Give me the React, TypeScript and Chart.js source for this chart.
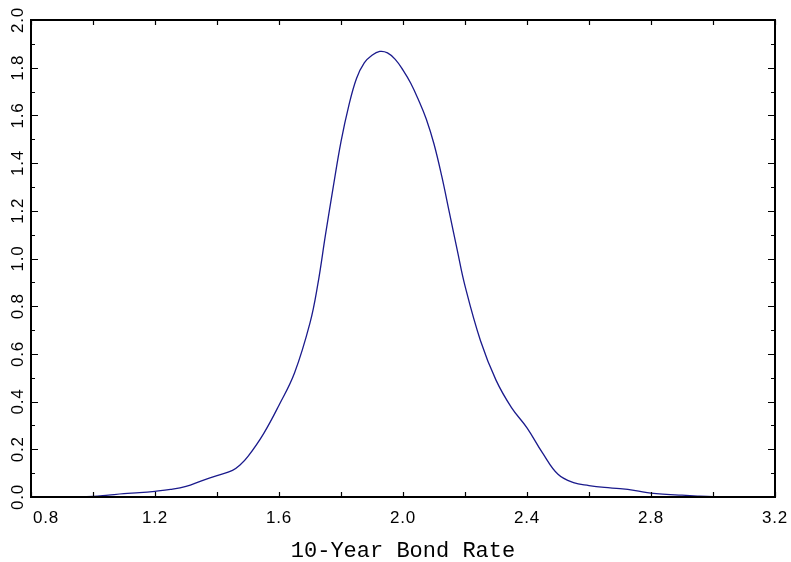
import React, { useEffect, useRef } from "react";
import { Chart, registerables } from "chart.js";

Chart.register(...registerables);

const xValues = [0.88, 0.95, 1.0, 1.05, 1.1, 1.15, 1.2, 1.25, 1.3, 1.35, 1.4, 1.45, 1.475, 1.5, 1.55, 1.6, 1.65, 1.7, 1.725, 1.75, 1.775, 1.8, 1.825, 1.85, 1.875, 1.9, 1.925, 1.95, 1.975, 2.0, 2.025, 2.05, 2.075, 2.1, 2.125, 2.15, 2.175, 2.2, 2.25, 2.3, 2.35, 2.4, 2.45, 2.5, 2.55, 2.6, 2.65, 2.7, 2.75, 2.8, 2.85, 2.9, 2.95, 3.0, 3.05, 3.11];
const densityValues = [0, 0, 0.002, 0.008, 0.014, 0.018, 0.024, 0.032, 0.045, 0.068, 0.09, 0.112, 0.135, 0.17, 0.265, 0.385, 0.52, 0.73, 0.89, 1.1, 1.3, 1.49, 1.64, 1.755, 1.82, 1.852, 1.868, 1.862, 1.835, 1.79, 1.735, 1.665, 1.585, 1.48, 1.345, 1.19, 1.035, 0.885, 0.655, 0.49, 0.375, 0.29, 0.185, 0.095, 0.06, 0.048, 0.04, 0.035, 0.027, 0.016, 0.011, 0.008, 0.004, 0.001, 0, 0];
const xTickLabels = ["0.8", "1.2", "1.6", "2.0", "2.4", "2.8", "3.2"];
const yTickLabels = ["0.0", "0.2", "0.4", "0.6", "0.8", "1.0", "1.2", "1.4", "1.6", "1.8", "2.0"];
const xTitle = "10-Year Bond Rate";

const framePlugin = {
  id: "frame",
  afterDraw(chart: any) {
    const ctx = chart.ctx as CanvasRenderingContext2D;
    const xs = chart.scales.x;
    const ys = chart.scales.y;
    const { left, right, top, bottom } = chart.chartArea;
    ctx.save();
    ctx.strokeStyle = "#000";
    ctx.lineWidth = 1.2;
    ctx.beginPath();
    for (let i = 0; i <= 12; i++) {
      const v = 0.8 + i * 0.2;
      const px = Math.round(xs.getPixelForValue(v)) + 0.5;
      ctx.moveTo(px, bottom);
      ctx.lineTo(px, bottom - 5);
      ctx.moveTo(px, top);
      ctx.lineTo(px, top + 5);
    }
    for (let i = 0; i <= 20; i++) {
      const v = i * 0.1;
      const py = Math.round(ys.getPixelForValue(v)) + 0.5;
      const len = i % 2 === 0 ? 7 : 4;
      ctx.moveTo(left, py);
      ctx.lineTo(left + len, py);
      ctx.moveTo(right, py);
      ctx.lineTo(right - len, py);
    }
    ctx.stroke();
    ctx.lineWidth = 2;
    ctx.strokeRect(left, top, right - left, bottom - top);
    ctx.fillStyle = "#000";
    ctx.font = "17px 'Liberation Sans', Arial, sans-serif";
    (ctx as any).letterSpacing = "0.8px";
    ctx.textBaseline = "middle";
    xTickLabels.forEach((t, i) => {
      const px = xs.getPixelForValue(parseFloat(t));
      if (i === 0) {
        ctx.textAlign = "left";
        ctx.fillText(t, px + 2, 518);
      } else {
        ctx.textAlign = "center";
        ctx.fillText(t, px, 518);
      }
    });
    yTickLabels.forEach((t) => {
      const py = ys.getPixelForValue(parseFloat(t));
      ctx.save();
      ctx.translate(18, py);
      ctx.rotate(-Math.PI / 2);
      ctx.textAlign = "center";
      ctx.fillText(t, 0, 0);
      ctx.restore();
    });
    (ctx as any).letterSpacing = "0px";
    ctx.font = "22px 'Liberation Mono', 'DejaVu Sans Mono', monospace";
    ctx.textAlign = "center";
    ctx.textBaseline = "alphabetic";
    ctx.fillText(xTitle, (left + right) / 2, 557);
    ctx.restore();
  },
};

export default function App() {
  const ref = useRef<HTMLCanvasElement | null>(null);
  useEffect(() => {
    document.body.style.margin = "0";
    if (!ref.current) return;
    const chart = new Chart(ref.current, {
      type: "line",
      data: {
        datasets: [
          {
            data: xValues.map((x, i) => ({ x, y: densityValues[i] })),
            borderColor: "#1a1a8c",
            borderWidth: 1.3,
            pointRadius: 0,
            fill: false,
            tension: 0.4,
          },
        ],
      },
      options: {
        animation: false,
        responsive: false,
        maintainAspectRatio: false,
        layout: { padding: { left: 31, right: 16, top: 20, bottom: 65 } },
        plugins: { legend: { display: false }, tooltip: { enabled: false } },
        scales: {
          x: { type: "linear", min: 0.8, max: 3.2, display: false },
          y: { type: "linear", min: 0, max: 2.0, display: false },
        },
      },
      plugins: [framePlugin],
    });
    return () => chart.destroy();
  }, []);
  return (
    <div style={{ width: 791, height: 562, background: "#fff" }}>
      <canvas ref={ref} width={791} height={562} style={{ display: "block" }} />
    </div>
  );
}
